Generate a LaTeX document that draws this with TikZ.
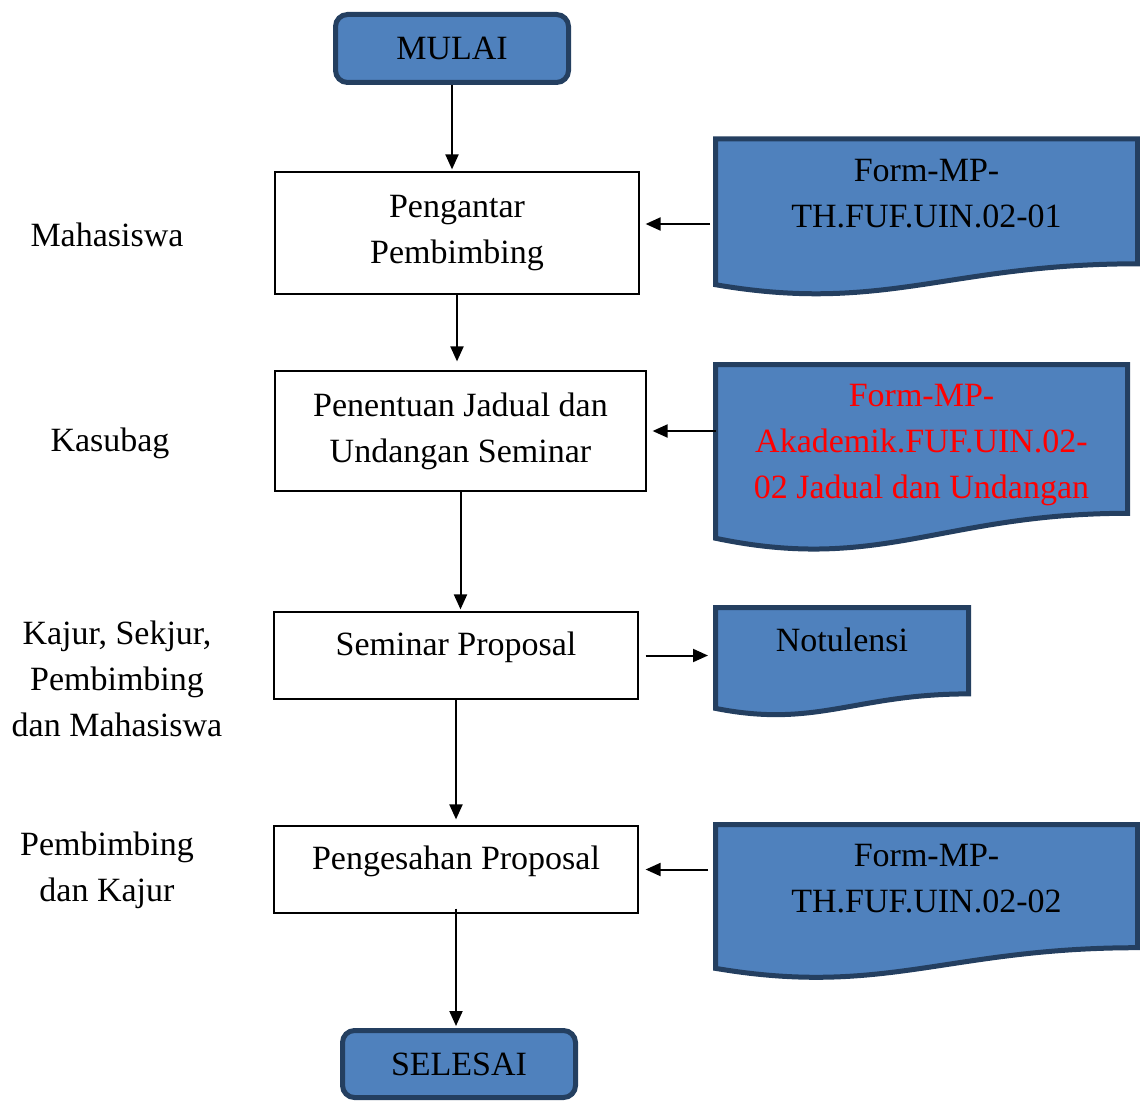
\documentclass[tikz,border=0pt]{standalone}
\usepackage{fontspec}
\setmainfont{Liberation Serif}
\usetikzlibrary{arrows.meta,calc,backgrounds}
\definecolor{docblue}{HTML}{4F81BD}
\definecolor{docborder}{HTML}{243F60}
\tikzstyle{startstop}=[%
	draw=docborder,
	fill=docblue,
	line width=2.5pt,
	rounded corners=6pt,
	minimum width=116.5pt,
	minimum height=34pt,
	]
\tikzstyle{process}=[draw, line width=0.6pt, align=center, minimum width=182pt]
\tikzstyle{docnode}=[anchor=north, align=center, inner ysep=10pt, outer sep=0pt]
\tikzstyle{docline}=[draw=docborder, fill=docblue, line width=2.5pt]
\tikzstyle{actor}=[align=center]
\tikzstyle{arr}=[-{Triangle[length=7.5pt,width=6.5pt]}, line width=1pt]
% document outline behind a node: #1 node, #2 height of the sheet
\newcommand{\docshape}[2]{%
	\begin{pgfonlayer}{background}
	\draw[docline] let \p1=(#1.north west), \p2=(#1.north east) in
		(\p1) -- (\p2) -- (\x2,\y2-0.8*#2)
		.. controls (\x1+0.55*\x2-0.55*\x1,\y2-0.8*#2) and (\x1+0.4*\x2-0.4*\x1,\y1-1.12*#2)
		.. (\x1,\y1-0.934*#2) -- cycle;
	\end{pgfonlayer}}

\begin{document}
\begin{tikzpicture}[x=0.5pt,y=-0.5pt,font=\fontsize{17}{23}\selectfont]
	\useasboundingbox (0,0) rectangle (1140,1102);
	% main column
	\node[startstop] (mulai) at (452,48.5) {MULAI};
	\node[process, minimum height=61pt] (pengantar) at (457,233) {Pengantar\\Pembimbing};
	\node[process, minimum width=185.5pt, minimum height=60pt] (jadual) at (460.5,431) {Penentuan Jadual dan\\Undangan Seminar};
	\node[process, minimum height=43.5pt, text height=11pt, text depth=11pt] (seminar) at (456,655.5) {Seminar Proposal};
	\node[process, minimum height=43.5pt, text height=11pt, text depth=11pt] (pengesahan) at (456,869.5) {Pengesahan Proposal};
	\node[startstop, minimum height=33.5pt] (selesai) at (459,1064) {SELESAI};

	% who does it
	\node[actor] (mhs) at (107,235) {Mahasiswa};
	\node[actor] (kasubag) at (110,443) {Kasubag};
	\node[actor] (kajur) at (117,679) {Kajur, Sekjur,\\Pembimbing\\dan Mahasiswa};
	\node[actor] (pemb) at (107,870) {Pembimbing\\dan Kajur};

	% forms
	\node[docnode, minimum width=211pt] (form1) at (926.5,139) {Form-MP-\\TH.FUF.UIN.02-01};
	\node[docnode, minimum width=206pt, text=red] (form2) at (921.5,364.5) {Form-MP-\\Akademik.FUF.UIN.02-\\02 Jadual dan Undangan};
	\node[docnode, minimum width=126.5pt] (notulen) at (842,607.5) {Notulensi};
	\node[docnode, minimum width=211pt] (form4) at (926.5,824.5) {Form-MP-\\TH.FUF.UIN.02-02};
	\docshape{form1}{78pt}
	\docshape{form2}{93pt}
	\docshape{notulen}{54pt}
	\docshape{form4}{77pt}

	\draw[arr, shorten >=1pt] (mulai.south) -- (mulai.south |- pengantar.north);
	\draw[arr, shorten >=4.5pt] (pengantar.south) -- (pengantar.south |- jadual.north);
	\draw[arr, shorten >=1pt] (jadual.south) -- (jadual.south |- seminar.north);
	\draw[arr, shorten >=3pt] (seminar.south) -- (seminar.south |- pengesahan.north);
	\draw[arr, shorten <=-2.5pt, shorten >=1pt] (pengesahan.south) -- (pengesahan.south |- selesai.north);

	\draw[arr, shorten <=2.75pt, shorten >=3pt] ($(pengantar.east -| form1.west)+(0,4.5pt)$) -- ($(pengantar.east)+(0,4.5pt)$);
	\draw[arr, shorten >=3pt] (jadual.east -| form2.west) -- (jadual.east);
	\draw[arr, shorten <=3.5pt, shorten >=3.75pt] (seminar.east) -- (seminar.east -| notulen.west);
	\draw[arr, shorten <=3.75pt, shorten >=3.5pt] (pengesahan.east -| form4.west) -- (pengesahan.east);
\end{tikzpicture}
\end{document}
